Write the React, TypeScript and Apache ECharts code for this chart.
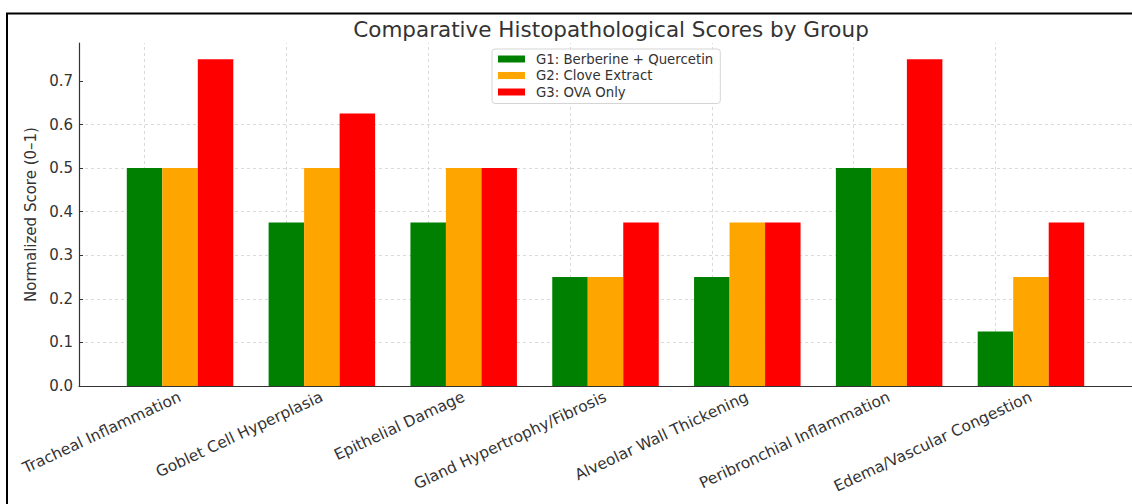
import React, { useEffect, useRef } from "react";
import * as echarts from "echarts";

const categories = [
  "Tracheal Inflammation",
  "Goblet Cell Hyperplasia",
  "Epithelial Damage",
  "Gland Hypertrophy/Fibrosis",
  "Alveolar Wall Thickening",
  "Peribronchial Inflammation",
  "Edema/Vascular Congestion",
];
const g1Values = [0.5, 0.375, 0.375, 0.25, 0.25, 0.5, 0.125];
const g2Values = [0.5, 0.5, 0.5, 0.25, 0.375, 0.5, 0.25];
const g3Values = [0.75, 0.625, 0.5, 0.375, 0.375, 0.75, 0.375];
const seriesNames = ["G1: Berberine + Quercetin", "G2: Clove Extract", "G3: OVA Only"];
const seriesColors = ["#008000", "#FFA500", "#FF0000"];
const yTicks = [0, 0.1, 0.2, 0.3, 0.4, 0.5, 0.6, 0.7];

const FONT = "DejaVu Sans";
const TXT = "#333333";

export default function App() {
  const ref = useRef<HTMLDivElement>(null);
  useEffect(() => {
    if (!ref.current) return;
    const chart = echarts.init(ref.current, undefined, { renderer: "svg" });
    const idx = categories.map((_, i) => i);
    const allSeries = [g1Values, g2Values, g3Values].map((vals, s) => ({
      type: "bar",
      name: seriesNames[s],
      data: vals.map((v, i) => [i, v]),
      barWidth: 35.5,
      barGap: "0%",
      itemStyle: { color: seriesColors[s] },
      emphasis: { disabled: true },
      ...(s === 0
        ? {
            markLine: {
              silent: true,
              symbol: "none",
              label: { show: false },
              lineStyle: { color: "#d0d0d0", type: [3, 3], width: 0.8 },
              data: idx.map((i) => ({ xAxis: i })),
              z: 0,
            },
          }
        : {}),
    }));
    chart.setOption({
      animation: false,
      textStyle: { fontFamily: FONT },
      title: {
        text: "Comparative Histopathological Scores by Group",
        left: 606,
        textAlign: "center",
        top: 13,
        textStyle: { fontFamily: FONT, fontSize: 21.5, fontWeight: "normal", color: TXT },
      },
      legend: {
        orient: "vertical",
        left: 492,
        top: 49,
        padding: [3.5, 7, 5, 6],
        itemWidth: 27,
        itemHeight: 7,
        itemGap: 3.5,
        borderColor: "#d5d5d5",
        borderWidth: 1,
        borderRadius: 3,
        backgroundColor: "rgba(255,255,255,0.85)",
        textStyle: { fontFamily: FONT, fontSize: 13.3, color: TXT, padding: [0, 0, 0, 6] },
        icon: "rect",
        data: seriesNames,
      },
      grid: { left: 79, top: 43, width: 1054, height: 343, containLabel: false },
      xAxis: {
        type: "value",
        min: -0.7125,
        max: 6.7125,
        axisLine: { show: true, onZero: false, lineStyle: { color: "#333", width: 1.2 } },
        axisTick: { show: true, inside: true, length: 4, lineStyle: { color: "#333" }, customValues: idx },
        axisLabel: {
          customValues: idx,
          rotate: 25,
          margin: 10,
          fontFamily: FONT,
          fontSize: 15.5,
          color: TXT,
          formatter: (v: number) => categories[Math.round(v)] ?? "",
        },
        splitLine: { show: false },
      },
      yAxis: {
        type: "value",
        min: 0,
        max: 0.787,
        interval: 0.1,
        name: "Normalized Score (0–1)",
        nameLocation: "middle",
        nameGap: 40,
        nameTextStyle: { fontFamily: FONT, fontSize: 15, color: TXT },
        axisLine: { show: true, onZero: false, lineStyle: { color: "#333", width: 1.2 } },
        axisTick: { show: true, inside: true, length: 4, lineStyle: { color: "#333" }, customValues: yTicks },
        axisLabel: {
          customValues: yTicks,
          margin: 6,
          fontFamily: FONT,
          fontSize: 15,
          color: TXT,
          formatter: (v: number) => v.toFixed(1),
        },
        splitLine: {
          show: true,
          showMinLine: false,
          showMaxLine: false,
          lineStyle: { color: "#d0d0d0", type: [3, 3], width: 0.8 },
        },
      },
      graphic: [
        { type: "line", shape: { x1: 6, y1: 13.5, x2: 1132, y2: 13.5 }, style: { stroke: "#000", lineWidth: 2 } },
        { type: "line", shape: { x1: 7, y1: 13, x2: 7, y2: 504 }, style: { stroke: "#000", lineWidth: 2 } },
      ],
      series: allSeries,
    });
    return () => chart.dispose();
  }, []);
  return (
    <div
      ref={ref}
      style={{ position: "fixed", left: 0, top: 0, width: 1132, height: 504, background: "#fff" }}
    />
  );
}
